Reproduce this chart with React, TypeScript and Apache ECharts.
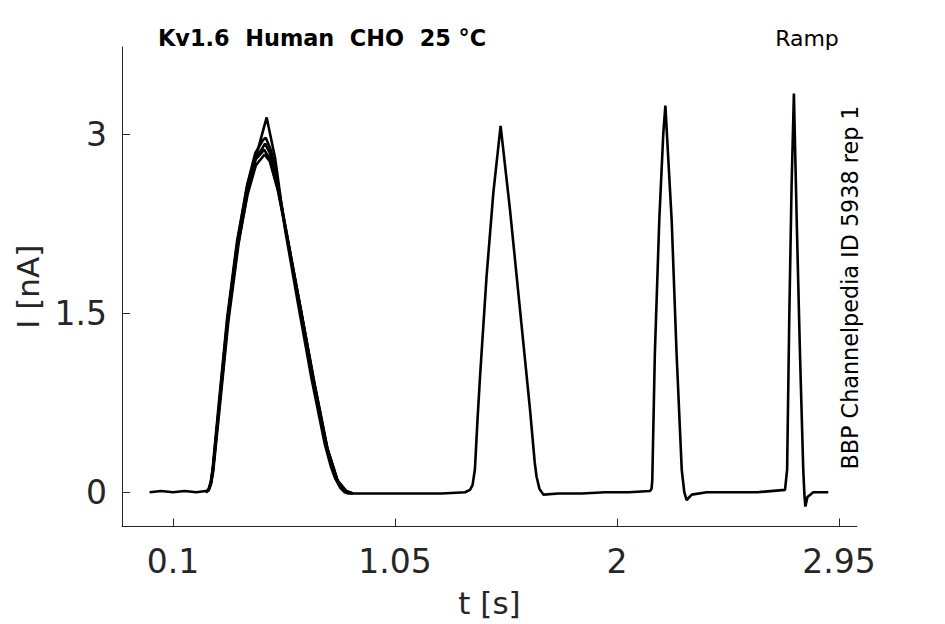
import React, { useEffect, useRef } from "react";
import * as echarts from "echarts";

// Current traces [t (s), I (nA)]
const traceMain: [number, number][] = [
  [0.0, 0.0], [0.05, 0.01], [0.1, 0.0], [0.15, 0.01], [0.2, 0.0], [0.24, 0.01], [0.251, 0.01],
  [0.262, 0.06], [0.272, 0.17], [0.301, 0.73], [0.337, 1.43], [0.38, 2.07], [0.422, 2.55],
  [0.465, 2.88], [0.501, 3.14], [0.537, 2.8], [0.579, 2.21], [0.636, 1.57], [0.693, 0.95],
  [0.75, 0.4], [0.775, 0.22], [0.793, 0.12], [0.815, 0.04], [0.835, 0.0], [0.85, -0.01],
  [0.95, -0.01], [1.05, -0.01], [1.15, -0.01], [1.25, -0.01], [1.35, 0.0], [1.371, 0.02],
  [1.382, 0.06], [1.392, 0.19], [1.403, 0.6], [1.414, 0.97], [1.442, 1.81], [1.471, 2.51], [1.502, 3.07],
  [1.542, 2.37], [1.585, 1.53], [1.628, 0.69], [1.648, 0.25], [1.656, 0.13], [1.668, 0.03],
  [1.685, -0.02], [1.75, -0.01], [1.85, -0.01], [1.95, 0.0], [2.05, 0.0], [2.141, 0.01],
  [2.148, 0.03], [2.151, 0.1], [2.162, 1.16], [2.181, 2.28], [2.198, 3.0], [2.207, 3.24],
  [2.234, 2.28], [2.255, 1.16], [2.277, 0.19], [2.288, 0.0], [2.298, -0.065], [2.32, -0.02],
  [2.384, 0.0], [2.5, 0.0], [2.6, 0.0], [2.719, 0.02], [2.728, 0.19], [2.737, 1.44],
  [2.747, 2.56], [2.757, 3.34], [2.769, 2.28], [2.783, 1.16], [2.797, 0.19], [2.802, -0.02],
  [2.806, -0.12], [2.815, -0.04], [2.84, 0.0], [2.904, 0.0],
];
const traceB: [number, number][] = [
  [0.24, 0.0], [0.252, 0.02], [0.262, 0.08], [0.27, 0.18], [0.298, 0.74], [0.333, 1.45],
  [0.376, 2.1], [0.418, 2.58], [0.452, 2.84], [0.485, 2.95], [0.497, 2.97], [0.52, 2.86],
  [0.54, 2.68], [0.583, 2.2], [0.64, 1.57], [0.698, 0.95], [0.755, 0.4], [0.8, 0.11],
  [0.84, 0.01], [0.87, -0.01],
];
const traceC: [number, number][] = [
  [0.24, 0.0], [0.253, 0.02], [0.263, 0.08], [0.271, 0.18], [0.3, 0.75], [0.335, 1.44],
  [0.378, 2.08], [0.42, 2.55], [0.455, 2.8], [0.482, 2.88], [0.494, 2.92], [0.515, 2.84],
  [0.545, 2.6], [0.588, 2.16], [0.645, 1.55], [0.702, 0.93], [0.758, 0.38], [0.802, 0.1],
  [0.842, 0.01], [0.87, -0.01],
];
const traceD: [number, number][] = [
  [0.24, 0.0], [0.252, 0.02], [0.262, 0.09], [0.27, 0.2], [0.297, 0.76], [0.332, 1.46],
  [0.374, 2.1], [0.416, 2.55], [0.45, 2.78], [0.478, 2.84], [0.49, 2.87], [0.512, 2.8],
  [0.548, 2.55], [0.59, 2.12], [0.648, 1.52], [0.705, 0.91], [0.76, 0.37], [0.805, 0.09],
  [0.845, 0.0], [0.87, -0.01],
];
const traceE: [number, number][] = [
  [0.24, 0.0], [0.253, 0.02], [0.263, 0.08], [0.271, 0.19], [0.299, 0.74], [0.334, 1.43],
  [0.377, 2.06], [0.42, 2.5], [0.455, 2.74], [0.48, 2.8], [0.492, 2.83], [0.515, 2.77],
  [0.55, 2.52], [0.592, 2.1], [0.65, 1.5], [0.707, 0.9], [0.762, 0.36], [0.806, 0.09],
  [0.846, 0.0], [0.87, -0.01],
];

const xTicks = [0.1, 1.05, 2, 2.95];
const yTicks = [0, 1.5, 3];

const titleText = "Kv1.6  Human  CHO  25 °C";
const protocolText = "Ramp";
const sourceText = "BBP Channelpedia ID 5938 rep 1";

const FONT = "DejaVu Sans";
const AXIS_COLOR = "#262626";

export default function App() {
  const ref = useRef<HTMLDivElement>(null);

  useEffect(() => {
    if (!ref.current) return;
    const chart = echarts.init(ref.current, undefined, { renderer: "svg" });
    const traces = [traceMain, traceB, traceC, traceD, traceE];
    chart.setOption({
      animation: false,
      backgroundColor: "#ffffff",
      grid: { left: 122, right: 88, top: 47, bottom: 97.5, containLabel: false },
      xAxis: {
        type: "value",
        min: -0.118,
        max: 3.027,
        name: "t [s]",
        nameLocation: "middle",
        nameGap: 61,
        nameTextStyle: { fontFamily: FONT, fontSize: 31, color: AXIS_COLOR },
        axisLine: { show: true, onZero: false, lineStyle: { color: AXIS_COLOR, width: 1 } },
        axisTick: { show: true, inside: true, length: 8, customValues: xTicks, lineStyle: { color: AXIS_COLOR } },
        axisLabel: {
          show: true,
          customValues: xTicks,
          margin: 18,
          fontFamily: FONT,
          fontSize: 33,
          color: AXIS_COLOR,
          formatter: (v: number) => String(v),
        },
        splitLine: { show: false },
      },
      yAxis: {
        type: "value",
        min: -0.287,
        max: 3.73,
        name: "I [nA]",
        nameLocation: "middle",
        nameGap: 78,
        nameRotate: 90,
        nameTextStyle: { fontFamily: FONT, fontSize: 31, color: AXIS_COLOR },
        axisLine: { show: true, onZero: false, lineStyle: { color: AXIS_COLOR, width: 1 } },
        axisTick: { show: true, inside: true, length: 8, customValues: yTicks, lineStyle: { color: AXIS_COLOR } },
        axisLabel: {
          show: true,
          customValues: yTicks,
          margin: 15,
          fontFamily: FONT,
          fontSize: 33,
          color: AXIS_COLOR,
          formatter: (v: number) => String(v),
        },
        splitLine: { show: false },
      },
      graphic: [
        {
          type: "text",
          left: 158,
          top: 27,
          style: { text: titleText, fontFamily: FONT, fontSize: 22.4, fontWeight: "bold", fill: "#000" },
        },
        {
          type: "text",
          x: 807,
          y: 38,
          style: { text: protocolText, fontFamily: FONT, fontSize: 22, fill: "#000", align: "center", verticalAlign: "middle" },
        },
        {
          type: "text",
          x: 850,
          y: 287.5,
          rotation: Math.PI / 2,
          style: { text: sourceText, fontFamily: FONT, fontSize: 22.3, fill: "#000", align: "center", verticalAlign: "middle" },
        },
      ],
      series: traces.map((d, i) => ({
        type: "line",
        name: "sweep " + (i + 1),
        data: d,
        showSymbol: false,
        symbol: "none",
        silent: true,
        lineStyle: { color: "#000000", width: 2.6 },
        z: 2,
      })),
    });
    return () => chart.dispose();
  }, []);

  return (
    <div
      ref={ref}
      style={{ position: "fixed", left: 0, top: 0, width: 945, height: 624, background: "#fff" }}
    />
  );
}
